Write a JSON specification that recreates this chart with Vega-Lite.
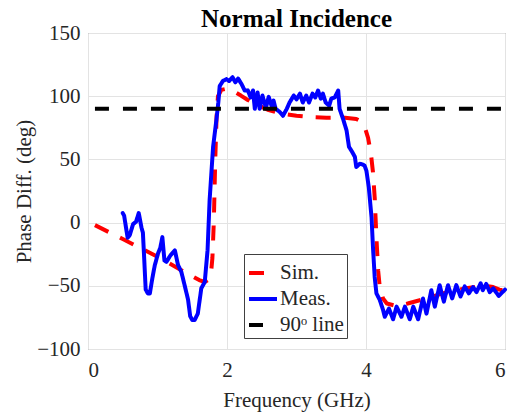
{
  "$schema": "https://vega.github.io/schema/vega-lite/v6.json",
  "width": 417,
  "height": 316,
  "autosize": {"type": "none"},
  "padding": {"left": 88, "top": 33, "right": 11, "bottom": 63},
  "background": "white",
  "title": {
    "text": "Normal Incidence",
    "font": "Liberation Serif",
    "fontSize": 25,
    "fontWeight": "bold",
    "color": "black",
    "anchor": "middle",
    "offset": -10
  },
  "config": {
    "view": {"stroke": "#7a7a7a", "strokeWidth": 1},
    "axis": {
      "labelFont": "Liberation Serif",
      "labelFontSize": 21,
      "labelColor": "#262626",
      "titleFont": "Liberation Serif",
      "titleFontSize": 21,
      "titleFontWeight": "normal",
      "titleColor": "#262626",
      "gridColor": "#e3e3e3",
      "gridWidth": 1,
      "domain": false,
      "ticks": false
    },
    "legend": {
      "orient": "none", "legendX": 156, "legendY": 221,
      "fillColor": "white", "strokeColor": "#404040", "padding": 3,
      "symbolType": "stroke", "symbolSize": 784, "symbolStrokeWidth": 4,
      "labelFont": "Liberation Serif", "labelFontSize": 21, "labelColor": "#262626",
      "labelOffset": 1, "rowPadding": 0, "labelLimit": 200
    }
  },
  "datasets": {
    "sim": [
      {"f": 0.1, "d": -2}, {"f": 0.5, "d": -13}, {"f": 1.0, "d": -27}, {"f": 1.42, "d": -40},
      {"f": 1.6, "d": -45.5}, {"f": 1.68, "d": -47}, {"f": 1.74, "d": -45}, {"f": 1.77, "d": -40},
      {"f": 1.79, "d": -28}, {"f": 1.81, "d": 0}, {"f": 1.83, "d": 48}, {"f": 1.85, "d": 84},
      {"f": 1.87, "d": 100}, {"f": 1.92, "d": 105}, {"f": 2.0, "d": 106}, {"f": 2.09, "d": 104},
      {"f": 2.2, "d": 100.5}, {"f": 2.3, "d": 97}, {"f": 2.42, "d": 93.5}, {"f": 2.6, "d": 89},
      {"f": 2.76, "d": 86.5}, {"f": 3.0, "d": 84.5}, {"f": 3.2, "d": 83.5}, {"f": 3.43, "d": 83},
      {"f": 3.7, "d": 83}, {"f": 3.86, "d": 82}, {"f": 3.93, "d": 80}, {"f": 3.98, "d": 76},
      {"f": 4.03, "d": 67}, {"f": 4.07, "d": 55}, {"f": 4.1, "d": 40}, {"f": 4.125, "d": 20},
      {"f": 4.15, "d": -12}, {"f": 4.175, "d": -38}, {"f": 4.2, "d": -52}, {"f": 4.245, "d": -60},
      {"f": 4.3, "d": -64}, {"f": 4.44, "d": -66}, {"f": 4.6, "d": -64}, {"f": 4.87, "d": -60},
      {"f": 5.1, "d": -56}, {"f": 5.44, "d": -52}, {"f": 5.7, "d": -50}, {"f": 5.83, "d": -51},
      {"f": 5.92, "d": -53}, {"f": 6.0, "d": -54}
    ],
    "meas": [
      {"f": 0.5, "d": 7.5}, {"f": 0.52, "d": 5.5}, {"f": 0.57, "d": -12}, {"f": 0.6, "d": -10},
      {"f": 0.65, "d": -1}, {"f": 0.69, "d": 0.5}, {"f": 0.73, "d": 7.5}, {"f": 0.77, "d": -4},
      {"f": 0.79, "d": -8}, {"f": 0.81, "d": -30}, {"f": 0.83, "d": -53}, {"f": 0.86, "d": -56},
      {"f": 0.89, "d": -56}, {"f": 0.926, "d": -44}, {"f": 0.96, "d": -34}, {"f": 1.007, "d": -24.5},
      {"f": 1.04, "d": -20}, {"f": 1.07, "d": -11.5}, {"f": 1.1, "d": -30}, {"f": 1.13, "d": -31},
      {"f": 1.185, "d": -26}, {"f": 1.25, "d": -22}, {"f": 1.295, "d": -33.5}, {"f": 1.343, "d": -39},
      {"f": 1.39, "d": -49.5}, {"f": 1.44, "d": -61}, {"f": 1.47, "d": -74}, {"f": 1.5, "d": -77},
      {"f": 1.535, "d": -77}, {"f": 1.58, "d": -72}, {"f": 1.63, "d": -52}, {"f": 1.68, "d": -47},
      {"f": 1.72, "d": -22}, {"f": 1.75, "d": 18}, {"f": 1.8, "d": 60}, {"f": 1.847, "d": 81},
      {"f": 1.875, "d": 95}, {"f": 1.895, "d": 108}, {"f": 1.94, "d": 112}, {"f": 1.99, "d": 113.5},
      {"f": 2.03, "d": 112}, {"f": 2.08, "d": 115}, {"f": 2.12, "d": 111}, {"f": 2.16, "d": 114},
      {"f": 2.21, "d": 109.5}, {"f": 2.255, "d": 104.5}, {"f": 2.3, "d": 104.5}, {"f": 2.34, "d": 99},
      {"f": 2.375, "d": 104.5}, {"f": 2.4, "d": 90}, {"f": 2.44, "d": 103}, {"f": 2.47, "d": 90},
      {"f": 2.51, "d": 100.5}, {"f": 2.56, "d": 91}, {"f": 2.6, "d": 99.5}, {"f": 2.64, "d": 92.5},
      {"f": 2.67, "d": 96.5}, {"f": 2.7, "d": 90}, {"f": 2.76, "d": 87.5}, {"f": 2.805, "d": 84.5},
      {"f": 2.86, "d": 90}, {"f": 2.9, "d": 95}, {"f": 2.96, "d": 100.5}, {"f": 3.0, "d": 97.5},
      {"f": 3.05, "d": 102}, {"f": 3.09, "d": 95}, {"f": 3.14, "d": 100.5}, {"f": 3.18, "d": 95},
      {"f": 3.23, "d": 102}, {"f": 3.27, "d": 99}, {"f": 3.31, "d": 104.5}, {"f": 3.35, "d": 98},
      {"f": 3.38, "d": 102}, {"f": 3.42, "d": 95}, {"f": 3.47, "d": 92.5}, {"f": 3.5, "d": 98},
      {"f": 3.55, "d": 99}, {"f": 3.6, "d": 104.5}, {"f": 3.62, "d": 90}, {"f": 3.67, "d": 82},
      {"f": 3.72, "d": 73}, {"f": 3.755, "d": 60}, {"f": 3.8, "d": 56}, {"f": 3.84, "d": 52},
      {"f": 3.86, "d": 44}, {"f": 3.91, "d": 46.5}, {"f": 3.95, "d": 46}, {"f": 3.98, "d": 45},
      {"f": 4.006, "d": 41}, {"f": 4.04, "d": 28}, {"f": 4.08, "d": 4}, {"f": 4.1, "d": -19},
      {"f": 4.125, "d": -43}, {"f": 4.15, "d": -56}, {"f": 4.197, "d": -61}, {"f": 4.245, "d": -69},
      {"f": 4.27, "d": -74.5}, {"f": 4.33, "d": -68}, {"f": 4.39, "d": -76.5}, {"f": 4.44, "d": -66.5},
      {"f": 4.51, "d": -74.5}, {"f": 4.56, "d": -66.5}, {"f": 4.63, "d": -76.5}, {"f": 4.68, "d": -66.5},
      {"f": 4.75, "d": -76.5}, {"f": 4.82, "d": -60}, {"f": 4.87, "d": -72}, {"f": 4.94, "d": -53.5},
      {"f": 4.99, "d": -66.5}, {"f": 5.06, "d": -49.5}, {"f": 5.12, "d": -62.5}, {"f": 5.18, "d": -49.5},
      {"f": 5.24, "d": -60}, {"f": 5.3, "d": -49.5}, {"f": 5.36, "d": -58.5}, {"f": 5.42, "d": -50.5},
      {"f": 5.48, "d": -56}, {"f": 5.54, "d": -51}, {"f": 5.59, "d": -55}, {"f": 5.65, "d": -48},
      {"f": 5.68, "d": -53.5}, {"f": 5.73, "d": -48.5}, {"f": 5.78, "d": -55}, {"f": 5.83, "d": -52},
      {"f": 5.91, "d": -58}, {"f": 6.0, "d": -53}
    ],
    "ref90": [{"f": 0.1, "d": 90}, {"f": 6.0, "d": 90}]
  },
  "encoding": {
    "x": {
      "field": "f", "type": "quantitative",
      "scale": {"domain": [0, 6], "nice": false, "zero": false},
      "axis": {"values": [0, 2, 4, 6], "title": "Frequency (GHz)", "labelPadding": 10, "titlePadding": 9}
    },
    "y": {
      "field": "d", "type": "quantitative",
      "scale": {"domain": [-100, 150], "nice": false, "zero": false},
      "axis": {"values": [-100, -50, 0, 50, 100, 150], "title": "Phase Diff. (deg)", "labelPadding": 8, "titlePadding": 2}
    },
    "color": {
      "field": "s", "type": "nominal",
      "scale": {"domain": ["Sim.", "Meas.", "90ᵒ line"], "range": ["#ff0000", "#0000ff", "#000000"]},
      "legend": {"title": null}
    },
    "strokeDash": {
      "field": "s", "type": "nominal",
      "scale": {"domain": ["Sim.", "Meas.", "90ᵒ line"], "range": [[15, 13], [1, 0], [14, 14]]},
      "legend": {"title": null}
    }
  },
  "layer": [
    {
      "data": {"name": "sim"},
      "transform": [{"calculate": "'Sim.'", "as": "s"}],
      "mark": {"type": "line", "strokeWidth": 4, "strokeJoin": "round"}
    },
    {
      "data": {"name": "meas"},
      "transform": [{"calculate": "'Meas.'", "as": "s"}],
      "mark": {"type": "line", "strokeWidth": 4, "strokeJoin": "round", "strokeCap": "round"}
    },
    {
      "data": {"name": "ref90"},
      "transform": [{"calculate": "'90ᵒ line'", "as": "s"}],
      "mark": {"type": "line", "strokeWidth": 4, "strokeDash": [16, 13]}
    }
  ]
}
